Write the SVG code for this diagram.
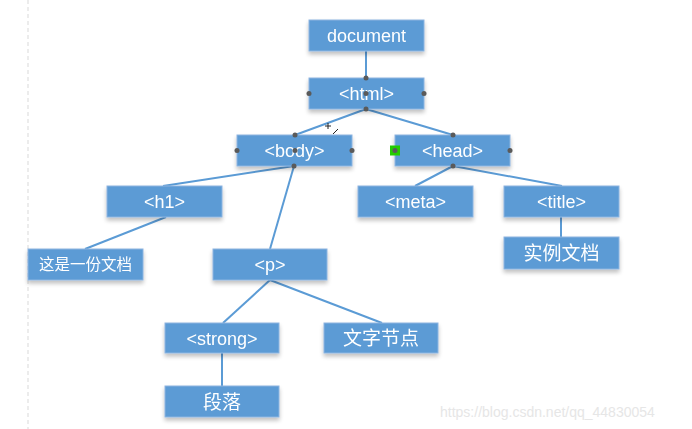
<svg xmlns="http://www.w3.org/2000/svg" width="692" height="429" viewBox="0 0 692 429">
<style>
.box rect{fill:#5b9bd5;stroke:#8db4e0;stroke-width:1}
.box text{fill:#fff;font-family:"Liberation Sans","Noto Sans CJK SC",sans-serif;font-size:18px;text-anchor:middle}
.box text.zh{font-size:19px}
.edges line{stroke:#5b9bd5;stroke-width:2}
.h{fill:#5a5a5a}
</style>
<defs>
<filter id="sh" x="-10%" y="-20%" width="120%" height="160%">
<feGaussianBlur in="SourceAlpha" stdDeviation="2"/>
<feOffset dy="3"/>
<feComponentTransfer><feFuncA type="linear" slope="0.25"/></feComponentTransfer>
<feMerge><feMergeNode/><feMergeNode in="SourceGraphic"/></feMerge>
</filter>
</defs>
<rect width="692" height="429" fill="#fff"/>
<line x1="28" y1="0" x2="28" y2="429" stroke="#d9d9d9" stroke-width="1" stroke-dasharray="4,3"/>
<g class="edges">
<line x1="366" y1="51" x2="366" y2="78"/>
<line x1="366" y1="109" x2="295" y2="135"/>
<line x1="366" y1="109" x2="453" y2="135"/>
<line x1="294" y1="166" x2="163" y2="186"/>
<line x1="294" y1="166" x2="270" y2="249"/>
<line x1="166" y1="217" x2="85" y2="249"/>
<line x1="453" y1="166" x2="415" y2="186"/>
<line x1="453" y1="166" x2="562" y2="186"/>
<line x1="561" y1="217" x2="561" y2="237"/>
<line x1="270" y1="280" x2="223" y2="323"/>
<line x1="270" y1="280" x2="382" y2="323"/>
<line x1="222" y1="353" x2="222" y2="386"/>
</g>
<g id="n-document" class="box" filter="url(#sh)"><rect x="309" y="20" width="115" height="31"/><text x="366.5" y="42">document</text></g>
<g id="n-html" class="box" filter="url(#sh)"><rect x="309" y="78" width="115" height="31"/><text x="366.5" y="100">&lt;html&gt;</text></g>
<g id="n-body" class="box" filter="url(#sh)"><rect x="237" y="135" width="115" height="31"/><text x="294.5" y="157">&lt;body&gt;</text></g>
<g id="n-head" class="box" filter="url(#sh)"><rect x="395" y="135" width="115" height="31"/><text x="452.5" y="157">&lt;head&gt;</text></g>
<g id="n-h1" class="box" filter="url(#sh)"><rect x="107" y="186" width="115" height="31"/><text x="164.5" y="208">&lt;h1&gt;</text></g>
<g id="n-meta" class="box" filter="url(#sh)"><rect x="358" y="186" width="115" height="31"/><text x="415.5" y="208">&lt;meta&gt;</text></g>
<g id="n-title" class="box" filter="url(#sh)"><rect x="504" y="186" width="115" height="31"/><text x="561.5" y="208">&lt;title&gt;</text></g>
<g id="n-text1" class="box" filter="url(#sh)"><rect x="28" y="249" width="115" height="31"/><text x="85.5" y="270" style="font-size:15.5px">这是一份文档</text></g>
<g id="n-p" class="box" filter="url(#sh)"><rect x="213" y="249" width="114" height="31"/><text x="270" y="271">&lt;p&gt;</text></g>
<g id="n-text2" class="box" filter="url(#sh)"><rect x="504" y="237" width="115" height="32"/><text class="zh" x="561.5" y="260">实例文档</text></g>
<g id="n-strong" class="box" filter="url(#sh)"><rect x="165" y="323" width="114" height="30"/><text x="222" y="344.5">&lt;strong&gt;</text></g>
<g id="n-text3" class="box" filter="url(#sh)"><rect x="324" y="323" width="114" height="30"/><text class="zh" x="381" y="345">文字节点</text></g>
<g id="n-text4" class="box" filter="url(#sh)"><rect x="165" y="386" width="114" height="31"/><text class="zh" x="222" y="408.5">段落</text></g>
<g id="handles">
<circle class="h" cx="366" cy="78" r="2.5"/><circle class="h" cx="309" cy="93.5" r="2.5"/><circle class="h" cx="424" cy="93.5" r="2.5"/><circle class="h" cx="366" cy="93.5" r="2.5"/><circle class="h" cx="366" cy="109" r="2.5"/>
<circle class="h" cx="295" cy="135" r="2.5"/><circle class="h" cx="237" cy="150.5" r="2.5"/><circle class="h" cx="352" cy="150.5" r="2.5"/><circle class="h" cx="295" cy="150.5" r="2.5"/><circle class="h" cx="294" cy="166" r="2.5"/>
<circle class="h" cx="453" cy="135" r="2.5"/><circle class="h" cx="510" cy="150.5" r="2.5"/><circle class="h" cx="453" cy="166" r="2.5"/>
<rect x="390" y="145.5" width="10" height="10" fill="#22cc00"/><circle class="h" cx="395" cy="150.5" r="2.5"/>
<path d="M328 123v6M325 126h6M333 134l5-5" stroke="#222" stroke-width="1" fill="none"/>
</g>
<text x="440" y="417" font-family="Liberation Sans,sans-serif" font-size="14" fill="#e6e6e6">https://blog.csdn.net/qq_44830054</text>
</svg>
